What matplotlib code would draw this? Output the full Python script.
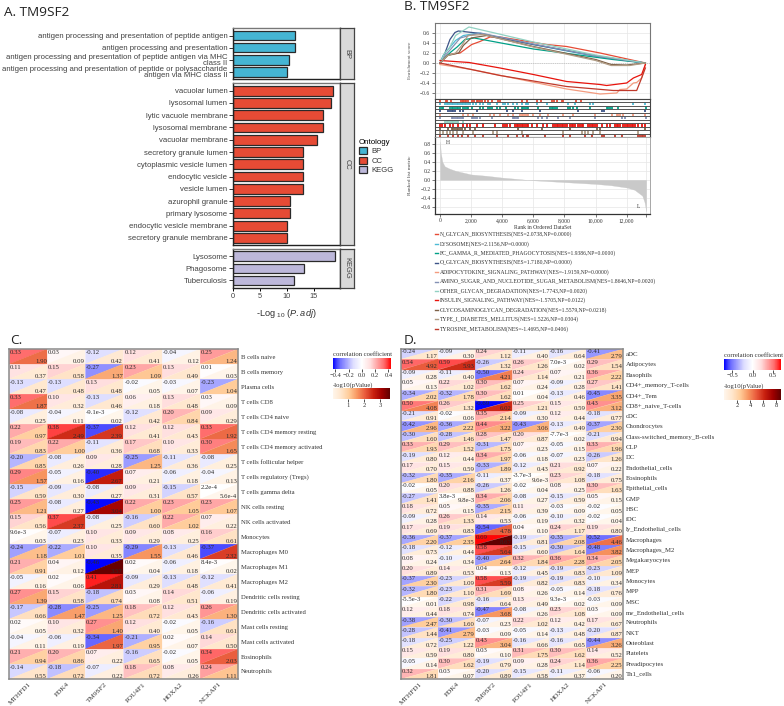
import matplotlib
matplotlib.use("Agg")
import matplotlib.pyplot as plt
import numpy as np
from matplotlib.collections import PolyCollection
from matplotlib.colors import LinearSegmentedColormap, Normalize
from matplotlib.cm import ScalarMappable
from matplotlib.patches import Patch

W, H = 784, 706
SERIF = "Liberation Serif"
SANS = "Liberation Sans"
plt.rcParams["font.family"] = SANS
plt.rcParams["mathtext.fontset"] = "custom"
plt.rcParams["mathtext.rm"] = SANS
plt.rcParams["mathtext.it"] = SANS + ":italic"

# ---------- Panel A ----------
bp_terms = ["antigen processing and presentation of peptide antigen",
            "antigen processing and presentation",
            "antigen processing and presentation of peptide antigen via MHC\nclass II",
            "antigen processing and presentation of peptide or polysaccharide\nantigen via MHC class II"]
bp_vals = [11.6, 11.5, 10.4, 10.1]
cc_terms = ["vacuolar lumen", "lysosomal lumen", "lytic vacuole membrane", "lysosomal membrane",
            "vacuolar membrane", "secretory granule lumen", "cytoplasmic vesicle lumen",
            "endocytic vesicle", "vesicle lumen", "azurophil granule", "primary lysosome",
            "endocytic vesicle membrane", "secretory granule membrane"]
cc_vals = [18.6, 18.15, 16.7, 16.7, 15.7, 13.0, 13.0, 13.0, 13.0, 10.5, 10.5, 10.05, 10.05]
kegg_terms = ["Lysosome", "Phagosome", "Tuberculosis"]
kegg_vals = [18.9, 13.2, 11.3]
ont_names = ["BP", "CC", "KEGG"]
ont_colors = ["#45B5D3", "#E64B35", "#BDB8DA"]

# ---------- Panel B ----------
gsea_labels = ["N_GLYCAN_BIOSYNTHESIS(NES=2.0738,NP=0.0000)",
               "LYSOSOME(NES=2.1156,NP=0.0000)",
               "FC_GAMMA_R_MEDIATED_PHAGOCYTOSIS(NES=1.9386,NP=0.0000)",
               "O_GLYCAN_BIOSYNTHESIS(NES=1.7180,NP=0.0000)",
               "ADIPOCYTOKINE_SIGNALING_PATHWAY(NES=-1.9159,NP=0.0000)",
               "AMINO_SUGAR_AND_NUCLEOTIDE_SUGAR_METABOLISM(NES=1.8646,NP=0.0020)",
               "OTHER_GLYCAN_DEGRADATION(NES=1.7743,NP=0.0020)",
               "INSULIN_SIGNALING_PATHWAY(NES=-1.5705,NP=0.0122)",
               "GLYCOSAMINOGLYCAN_DEGRADATION(NES=1.5579,NP=0.0218)",
               "TYPE_I_DIABETES_MELLITUS(NES=1.5226,NP=0.0304)",
               "TYROSINE_METABOLISM(NES=-1.4695,NP=0.0406)"]
gsea_colors = ["#E64B35", "#4DBBD5", "#00A087", "#3C5488", "#F39B7F", "#8491B4",
               "#91D1C2", "#E8130C", "#7E6148", "#B09C85", "#C0392B"]
n_glycan_rank = [0, 540, 1290, 2040, 2570, 3210, 3860, 6850, 8140, 10290, 13200]
n_glycan_es = [0, .17, .20, .37, .43, .52, .52, .37, .33, .20, 0]
lysosome_rank = [0, 200, 600, 1000, 1500, 2500, 6000, 10000, 13200]
lysosome_es = [0, .15, .30, .45, .55, .60, .37, .13, 0]
fc_gamma_rank = [0, 300, 700, 1100, 1600, 2200, 6000, 11100, 13200]
fc_gamma_es = [0, .10, .22, .32, .47, .50, .28, .07, 0]
o_glycan_rank = [0, 320, 640, 960, 1180, 2360, 6000, 10290, 13180]
o_glycan_es = [0, .20, .47, .61, .64, .60, .37, .13, 0]
adipo_rank = [0, 2040, 8140, 10290, 11360, 11570, 12000, 12430, 12640, 12960, 13200]
adipo_es = [-.03, -.13, -.52, -.62, -.60, -.53, -.52, -.40, -.39, -.30, -.03]
amino_rank = [0, 250, 700, 1300, 2000, 2600, 6000, 10000, 13200]
amino_es = [0, .12, .28, .50, .56, .60, .38, .14, 0]
other_rank = [0, 300, 600, 1000, 1860, 6000, 10000, 13200]
other_es = [0, .20, .30, .55, .72, .42, .16, 0]
insulin_rank = [0, 1870, 3860, 6000, 8140, 10290, 10710, 12000, 12430, 12960, 13200]
insulin_es = [.05, .01, -.10, -.23, -.37, -.43, -.45, -.40, -.30, -.23, -.03]
glycos_rank = [0, 500, 1200, 1500, 2000, 3000, 6000, 10000, 11000, 12000, 13200]
glycos_es = [0, .15, .20, .35, .50, .55, .33, .07, -.03, -.04, 0]
type1_rank = [0, 500, 1000, 1400, 1800, 2800, 6000, 10000, 11000, 12200, 13200]
type1_es = [0, .15, .20, .35, .55, .57, .32, .05, -.05, -.05, 0]
tyrosine_rank = [0, 3860, 8140, 11140, 12640, 12960, 13200]
tyrosine_es = [0, -.25, -.47, -.55, -.55, -.30, -.10]

rug_n_glycan = [0, 360, 470, 700, 1340, 1450, 1500, 1600, 1700, 1800, 2040, 2190, 2360, 2460, 2570, 2680, 2890,
                3100, 3360, 3750, 3860, 5240, 5560, 6250, 6460, 7180, 7300, 7500, 7810, 7920, 8770, 9050]
rug_lysosome = [0, 320, 430, 540, 640, 750, 860, 960, 1070, 1180, 1290, 1400, 1500, 1600, 1700, 1800, 1950, 2150,
                2300, 2570, 2790, 3100, 3210, 3640, 4070, 4200, 4390, 4710, 4920, 5280, 5500, 5600, 5670, 6210,
                6850, 8250, 8670, 9630, 9840, 12430, 13180]
rug_fc_gamma = [0, 110, 210, 640, 750, 860, 960, 1070, 1180, 1290, 1500, 1610, 1710, 1820, 2040, 2570, 2790, 3110,
                3210, 3320, 3640, 3860, 4240, 4820, 5040, 5250, 5360, 5460, 5570, 5680, 6320, 7070, 7180, 7290,
                7390, 7500, 8250, 8360, 8570, 8790, 9640, 10720, 10820, 10930, 11040, 11470, 13240]
rug_o_glycan = [0, 540, 640, 750, 860, 960, 1290, 1500, 2360, 4290, 4710, 5250, 6430, 8890, 10390, 10540, 13180]
rug_adipo = [0, 1500, 1820, 2140, 3210, 3490, 3860, 4390, 4710, 5140, 5250, 5360, 5460, 5570, 5680, 6000, 6430,
             6960, 7930, 8570, 9960, 11040, 11360, 11460, 11570, 11740, 12430, 13180]
rug_amino = [0, 750, 860, 960, 1070, 1180, 1290, 1390, 1500, 2040, 2140, 2250, 2360, 2570, 3320, 4670, 4760, 4840,
             4930, 5040, 6320, 6540, 6860, 7610, 8360, 9960, 11680, 11890, 13240]
rug_other = [320, 430, 540, 640, 750, 860, 960, 1070, 1180, 1500]
rug_insulin = [0, 110, 320, 640, 860, 1180, 1500, 1710, 1930, 2360, 2790, 3540, 4070, 4180, 4290, 4500, 4820, 4930,
               5040, 5140, 5250, 5360, 5460, 5570, 5680, 5890, 6210, 6640, 6860, 7290, 7390, 7500, 7610, 7710,
               7820, 7930, 8040, 8140, 8360, 8460, 8570, 8680, 8890, 9000, 9110, 9210, 9540, 9640, 9750, 9860,
               9960, 10070, 10390, 10720, 10930, 11250, 11360, 11460, 11570, 11790, 11890, 12000, 12110, 12210,
               12320, 12430, 12540, 12750, 12960, 13180]
rug_glycos = [0, 540, 750, 860, 960, 1070, 1180, 1290, 1390, 1610, 1930, 2250, 5040, 6540, 8360, 10070, 10290, 13180]
rug_type1 = [0, 210, 430, 640, 860, 1070, 1500, 2140, 3430, 3640, 5250, 7930, 9110, 9320, 9540, 9860, 10290, 12750]
rug_tyrosine = [0, 540, 860, 1180, 1390, 1820, 2250, 2790, 3640, 4390, 4930, 5360, 5570, 5680, 6750, 7930, 8360,
                9320, 9750, 10390, 10540, 11250, 11680, 12750, 12860, 12960, 13070, 13180]

metric_rank = [0, 50, 150, 300, 600, 1000, 2000, 3000, 4000, 5000, 5600, 6000, 7000, 8000, 9000, 10000, 11000,
               12000, 12500, 13000, 13150, 13250]
metric_val = [.85, .60, .40, .30, .25, .20, .12, .09, .05, .02, 0, -.01, -.03, -.05, -.07, -.09, -.12, -.17,
              -.22, -.35, -.50, -.70]

# ---------- Panels C and D ----------
genes = ["MTHFD1", "PDK4", "TM9SF2", "POU4F1", "HOXA2", "NCKAP1"]
c_rows = ["B cells naive", "B cells memory", "Plasma cells", "T cells CD8", "T cells CD4 naive",
          "T cells CD4 memory resting", "T cells CD4 memory activated", "T cells follicular helper",
          "T cells regulatory (Tregs)", "T cells gamma delta", "NK cells resting", "NK cells activated",
          "Monocytes", "Macrophages M0", "Macrophages M1", "Macrophages M2", "Dendritic cells resting",
          "Dendritic cells activated", "Mast cells resting", "Mast cells activated", "Eosinophils", "Neutrophils"]
c_corr = [[.33, .03, -.12, .12, -.04, .25], [.11, .15, -.27, .23, .13, .01], [-.13, -.13, .13, -.02, -.03, -.23],
          [.33, .10, -.13, .06, .13, .03], [-.08, -.04, -9.1e-3, -.12, .20, .09], [.22, .38, -.37, .12, .12, .33],
          [.19, .22, -.11, .17, .10, .30], [-.20, -.08, .09, -.25, -.11, -.08], [.29, -.05, -.40, .07, -.06, -.04],
          [-.15, -.09, -.08, .09, -.15, 2.2e-4], [.25, -.08, -.43, .22, .23, .23], [.15, .37, -.08, -.16, .22, .07],
          [9.6e-3, -.07, .10, .09, .08, .16], [-.24, -.22, .10, -.29, -.13, -.37], [.21, .04, -.46, .02, -.06, 8.4e-3],
          [-.05, .02, .41, -.09, -.13, -.12], [.27, .15, -.18, .03, .14, -.06], [-.17, -.28, -.25, .18, .12, .26],
          [.02, .10, .27, .12, -.02, -.16], [-.04, -.06, -.34, -.21, .02, .14], [.21, .20, .07, -.16, -.02, .34],
          [-.14, -.18, -.07, .18, .08, .24]]
c_logp = [[1.90, .09, .42, .41, .12, 1.24], [.37, .58, 1.37, 1.09, .49, .03], [.47, .48, .48, .05, .07, 1.04],
          [1.87, .32, .46, .18, .48, .09], [.25, .11, .02, .42, .84, .29], [.97, 2.49, 2.39, .41, .43, 1.92],
          [.83, 1.00, .36, .68, .33, 1.65], [.85, .26, .28, 1.25, .36, .25], [1.57, .16, 2.67, .21, .18, .13],
          [.59, .30, .27, .31, .57, 5.6e-4], [1.21, .27, 3.04, 1.00, 1.05, 1.07], [.56, 2.37, .25, .60, 1.02, .22],
          [.03, .23, .33, .29, .25, .61], [1.18, 1.01, .35, 1.55, .46, 2.32], [.91, .12, 3.57, .04, .18, .02],
          [.16, .06, 2.81, .29, .48, .41], [1.39, .58, .74, .08, .51, .19], [.66, 1.47, 1.25, .72, .43, 1.30],
          [.05, .32, 1.40, .40, .05, .61], [.11, .19, 1.97, .95, .07, .50], [.94, .86, .22, .65, .05, 2.03],
          [.55, .72, .22, .72, .26, 1.11]]
d_rows = ["aDC", "Adipocytes", "Basophils", "CD4+_memory_T-cells", "CD4+_Tem", "CD8+_naive_T-cells", "cDC",
          "Chondrocytes", "Class-switched_memory_B-cells", "CLP", "DC", "Endothelial_cells", "Eosinophils",
          "Epithelial_cells", "GMP", "HSC", "iDC", "ly_Endothelial_cells", "Macrophages", "Macrophages_M2",
          "Megakaryocytes", "MEP", "Monocytes", "MPP", "MSC", "mv_Endothelial_cells", "Neutrophils", "NKT",
          "Osteoblast", "Platelets", "Preadipocytes", "Th1_cells"]
d_corr = [[-.24, -.09, .24, -.11, -.16, -.41], [.54, .59, -.26, .26, 7.0e-3, .29], [-.09, -.11, -.50, .24, .07, .36],
          [.05, .22, .30, .07, -.09, .27], [-.34, -.32, .30, .01, -.13, -.45], [.50, .26, -.69, .25, .15, .43],
          [-.21, -.02, .35, -.09, .12, -.18], [-.42, -.36, .44, -.43, -.13, -.37], [-.30, -.28, .28, .20, -7.7e-3, -.21],
          [.33, .29, -.31, .07, -.05, .33], [-.19, .12, .34, -.06, -.07, -.26], [.17, .15, -.33, -.12, .21, .07],
          [-.32, -.35, -.11, -3.7e-3, .23, -.18], [-.02, .20, -.26, -.02, .08, .30], [-.27, 3.8e-3, .34, -.08, -.15, .05],
          [.18, .05, -.35, .11, -.03, -.02], [-.09, .26, .14, -.06, -.10, -.02], [.17, .19, -.54, .04, .24, .19],
          [-.36, -.37, .69, -.19, -.35, -.52], [-.18, -.12, .58, -.15, -.30, -.48], [.08, -.10, -.40, .32, .36, .34],
          [.20, .14, .04, -.12, -.19, -.23], [-.37, -.23, .58, -.19, -.19, -.10], [-.32, -.23, .31, .08, -.05, -.18],
          [-5.5e-3, -.22, -.16, .13, 9.3e-3, -.03], [.12, .18, -.47, -.08, .23, .03], [-.38, -.30, -.07, .22, .12, .17],
          [-.28, -.41, -.03, -.05, -.13, -.20], [-.18, -.25, .43, -.16, -.16, -.44], [.15, .19, .03, .31, .30, .14],
          [-.05, .30, -.19, .09, .24, .36], [.32, .03, -.20, -.15, -.11, -.06]]
d_logp = [[1.17, .30, 1.12, .40, .64, 2.79], [4.92, 5.93, 1.32, 1.26, .02, 1.54], [.28, .40, 4.21, 1.14, .21, 2.22],
          [.13, 1.02, 1.62, .24, .28, 1.41], [2.02, 1.78, 1.62, .04, .46, 3.35], [4.08, 1.32, 6.02, 1.21, .59, 3.12],
          [.91, .06, 2.14, .30, .44, .77], [2.96, 2.22, 3.22, 3.06, .49, 2.30], [1.60, 1.46, 1.47, .87, .02, .94],
          [1.93, 1.52, 1.75, .23, .15, 1.96], [.80, .44, 1.97, .18, .23, 1.26], [.70, .59, 1.89, .43, .92, .22],
          [1.80, 2.16, .37, 9.6e-3, 1.08, .75], [.05, .88, 1.26, .04, .25, 1.63], [1.41, 9.8e-3, 2.06, .27, .59, .15],
          [.72, .15, 2.15, .39, .09, .05], [.28, 1.33, .53, .19, .32, .04], [.69, .83, 4.78, .10, 1.17, .80],
          [2.20, 2.35, 8.67, .81, 2.08, 4.46], [.73, .44, 5.64, .60, 1.64, 3.82], [.24, .34, 2.64, 1.84, 2.28, 2.05],
          [.89, .53, .13, .45, .83, 1.09], [2.30, 1.09, 5.59, .82, .83, .34], [1.80, 1.10, 1.69, .26, .14, .76],
          [.01, .98, .64, .49, .02, .09], [.44, .74, 3.68, .26, 1.08, .09], [2.47, 1.60, .23, 1.02, .42, .67],
          [1.44, 2.79, .09, .14, .48, .87], [.72, 1.22, 3.04, .66, .65, 3.26], [.59, .80, .10, 1.75, 1.62, .52],
          [.14, 1.62, .79, .28, 1.14, 2.25], [1.81, .07, .89, .58, .37, .20]]

# Both correlation ramps are paler than a straight blue-white-red near zero.
cmap_corr = LinearSegmentedColormap.from_list("corr", [
    (0.0, "#0000FF"), (0.065, "#4040FF"), (0.125, "#7070FF"), (0.25, "#ABABFF"), (0.35, "#DDDDFF"),
    (0.5, "#FFFFFF"),
    (0.65, "#FFDDDD"), (0.75, "#FFABAB"), (0.875, "#FF7070"), (0.935, "#FF4040"), (1.0, "#FF0000")])
cmap_p = LinearSegmentedColormap.from_list(
    "pv", ["#FFF6EC", "#FFE6CC", "#FFCC99", "#F79560", "#E8583A", "#C8200F", "#A00000", "#600000"])

fig = plt.figure(figsize=(W / 100, H / 100), dpi=100, facecolor="white")


def ax_px(l, t, r, b, **kw):
    return fig.add_axes([l / W, 1 - b / H, (r - l) / W, (b - t) / H], **kw)


def ftext(x, y, s, **kw):
    return fig.text(x / W, 1 - y / H, s, **kw)


# ---------- draw A ----------
ftext(4, 13, "A. TM9SF2", fontsize=9.7, family="Open Sans", va="center", color="#222222")
ftext(404, 7, "B. TM9SF2", fontsize=9.7, family="Open Sans", va="center", color="#222222")
ftext(10, 340, "C.", fontsize=9.7, family="Open Sans", va="center", color="#222222")
ftext(404, 340, "D.", fontsize=9.7, family="Open Sans", va="center", color="#222222")

facets = [(bp_terms, bp_vals, 28.3, 79, "BP", ont_colors[0]),
          (cc_terms, cc_vals, 83.3, 245.3, "CC", ont_colors[1]),
          (kegg_terms, kegg_vals, 249, 287.7, "KEGG", ont_colors[2])]
for i, (terms, vals, t, b, name, col) in enumerate(facets):
    ax = ax_px(233.3, t, 340.3, b)
    y = np.arange(len(vals))
    ax.barh(y, vals, height=0.8, color=col, edgecolor="#2a2a2a", linewidth=0.9)
    ax.set_xlim(0, 19.97)
    ax.set_ylim(len(vals) - 0.4, -0.6)
    ax.set_yticks(y)
    ax.set_yticklabels(terms, fontsize=5.6, color="#404040", linespacing=0.88)
    ax.tick_params(axis="y", length=3, width=0.7, pad=1.2, color="#333333")
    for sp in ax.spines.values():
        sp.set_linewidth(1.0)
        sp.set_color("#222222")
    ax.spines["top"].set_color("#777777")
    if i == 2:
        ax.set_xticks([0, 5, 10, 15])
        ax.tick_params(axis="x", length=2.2, width=0.7, labelsize=5.3, pad=1.5, labelcolor="#404040")
        ax.set_xlabel(r"-Log $_{10}$ ($\mathit{P.adj}$)", fontsize=6.6, labelpad=1.5, color="#303030")
        ax.xaxis.set_label_coords(0.5, -0.50)
    else:
        ax.set_xticks([])
    st = ax_px(340.3, t, 354.3, b)
    st.set_facecolor("#D9D9D9")
    st.set_xticks([])
    st.set_yticks([])
    for sp in st.spines.values():
        sp.set_linewidth(0.9)
        sp.set_color("#444444")
    st.text(0.5, 0.5, name, rotation=-90, ha="center", va="center", fontsize=5.4,
            color="#404040", transform=st.transAxes)

handles = [Patch(facecolor=c, edgecolor="#2a2a2a", linewidth=0.9) for c in ont_colors]
fig.legend(handles, ont_names, title="Ontology", loc="upper left",
           bbox_to_anchor=(358.7 / W, 1 - 139 / H), frameon=False, fontsize=5.5, title_fontsize=5.7,
           handlelength=1.05, handleheight=1.05, labelspacing=0.17, handletextpad=0.58, borderpad=0,
           borderaxespad=0, alignment="left", labelcolor="#333333")

# ---------- draw B ----------
rank_lim = (-321, 13497)
ranks = [0, 2000, 4000, 6000, 8000, 10000, 12000]
gsea_rank = [n_glycan_rank, lysosome_rank, fc_gamma_rank, o_glycan_rank, adipo_rank, amino_rank,
             other_rank, insulin_rank, glycos_rank, type1_rank, tyrosine_rank]
gsea_es = [n_glycan_es, lysosome_es, fc_gamma_es, o_glycan_es, adipo_es, amino_es,
           other_es, insulin_es, glycos_es, type1_es, tyrosine_es]
rugs = [rug_n_glycan, rug_lysosome, rug_fc_gamma, rug_o_glycan, rug_adipo, rug_amino,
        rug_other, rug_insulin, rug_glycos, rug_type1, rug_tyrosine]

es_ax = ax_px(435, 23, 650, 98.5)
es_ax.set_xlim(*rank_lim)
es_ax.set_ylim(-0.71, 0.8)
es_ax.grid(True, color="#E6E6E6", linewidth=0.5)
es_ax.set_axisbelow(True)
es_ax.axhline(0, color="#AAAAAA", linewidth=0.5, linestyle=":")
for rk, es, col in zip(gsea_rank, gsea_es, gsea_colors):
    es_ax.plot(rk, es, color=col, linewidth=0.9, solid_joinstyle="round")
es_ax.set_xticks(ranks)
es_ax.set_yticks([-0.6, -0.4, -0.2, 0, 0.2, 0.4, 0.6])
es_ax.set_yticklabels(["\u22120.6", "\u22120.4", "\u22120.2", "0.0", "0.2", "0.4", "0.6"])
es_ax.tick_params(axis="x", length=0, labelbottom=False)
es_ax.tick_params(axis="y", length=2, width=0.5, labelsize=4.0, pad=1.5, color="#444444", labelcolor="#333333")
for lab in es_ax.get_yticklabels():
    lab.set_family(SERIF)
for sp in es_ax.spines.values():
    sp.set_color("#777777")
    sp.set_linewidth(0.8)
ftext(410, 60, "Enrichment score", rotation=90, ha="center", va="center", fontsize=3.9,
      family=SERIF, color="#555555")

rug_ax = ax_px(435, 98.5, 650, 137.3)
rug_ax.set_xlim(*rank_lim)
rug_ax.set_ylim(11, 0)
for i, (rug, col) in enumerate(zip(rugs, gsea_colors)):
    rug_ax.vlines(rug, i + 0.05, i + 0.95, color=col, linewidth=1.3)
rug_ax.hlines(np.arange(12), *rank_lim, color="#555555", linewidth=0.7)
rug_ax.set_xticks([])
rug_ax.set_yticks([])
for sp in rug_ax.spines.values():
    sp.set_color("#444444")
    sp.set_linewidth(0.8)

rk_ax = ax_px(435, 137.3, 650, 214)
rk_ax.set_xlim(*rank_lim)
rk_ax.set_ylim(-0.756, 0.942)
rk_ax.grid(True, color="#E6E6E6", linewidth=0.5)
rk_ax.set_axisbelow(True)
rk_ax.fill_between(metric_rank, metric_val, 0, color="#C9C9C9", linewidth=0.2)
rk_ax.set_xticks(ranks + [13250])
rk_ax.set_xticklabels(["0", "2,000", "4,000", "6,000", "8,000", "10,000", "12,000", ""])
rk_ax.set_yticks([-0.6, -0.4, -0.2, 0, 0.2, 0.4, 0.6, 0.8])
rk_ax.set_yticklabels(["\u22120.6", "\u22120.4", "\u22120.2", "0.0", "0.2", "0.4", "0.6", "0.8"])
rk_ax.tick_params(length=2, width=0.5, labelsize=4.0, pad=1, color="#444444", labelcolor="#333333")
for lab in rk_ax.get_yticklabels() + rk_ax.get_xticklabels():
    lab.set_family(SERIF)
for side, sp in rk_ax.spines.items():
    sp.set_color("#333333" if side in ("left", "bottom") else "#999999")
    sp.set_linewidth(0.9 if side in ("left", "bottom") else 0.6)
rk_ax.text(500, 0.82, "H", fontsize=4.0, family=SERIF, color="#333333", ha="center", va="center")
rk_ax.text(12750, -0.6, "L", fontsize=4.0, family=SERIF, color="#333333", ha="center", va="center")
ftext(410, 175, "Ranked list metric", rotation=90, ha="center", va="center", fontsize=3.9,
      family=SERIF, color="#444444")
ftext(542.7, 228, "Rank in Ordered DataSet", ha="center", va="center", fontsize=4.05,
      family=SERIF, color="#333333")

leg_ax = ax_px(433, 229.5, 700, 333.5)
leg_ax.set_xlim(0, 1)
leg_ax.set_ylim(len(gsea_labels) - 0.5, -0.5)
leg_ax.axis("off")
for i, (lab, col) in enumerate(zip(gsea_labels, gsea_colors)):
    leg_ax.plot([0.0075, 0.019], [i, i], color=col, linewidth=1.0)
    leg_ax.text(0.026, i, lab, fontsize=4.1, family=SERIF, va="center", ha="left", color="#333333")


# ---------- draw C and D ----------
def fmt(v):
    if v != 0 and abs(v) < 0.01:
        return f"{v:.1e}".replace("e-0", "e-")
    return f"{v:.2f}"


def triangle_heatmap(l, t, r, b, rows, corr, logp, lim_corr, lim_p, fs, lab_fs):
    ax = ax_px(l, t, r, b)
    corr = np.array(corr)
    logp = np.array(logp)
    nr, nc = corr.shape
    upper, lower, cv, pv = [], [], [], []
    for i in range(nr):
        for j in range(nc):
            upper.append([(j, i), (j + 1, i), (j, i + 1)])
            lower.append([(j + 1, i), (j + 1, i + 1), (j, i + 1)])
            cv.append(corr[i, j])
            pv.append(logp[i, j])
    n1 = Normalize(-lim_corr, lim_corr)
    n2 = Normalize(0, lim_p)
    ax.add_collection(PolyCollection(upper, array=np.array(cv), cmap=cmap_corr, norm=n1,
                                     edgecolors="face", linewidths=0.15))
    ax.add_collection(PolyCollection(lower, array=np.array(pv), cmap=cmap_p, norm=n2,
                                     edgecolors="face", linewidths=0.15))
    for i in range(nr):
        for j in range(nc):
            ax.text(j + 0.02, i + 0.04, fmt(corr[i, j]), fontsize=fs, family=SERIF, ha="left",
                    va="top", color="#2a2a2a")
            ax.text(j + 0.985, i + 0.97, fmt(logp[i, j]), fontsize=fs, family=SERIF, ha="right",
                    va="bottom", color="#2a2a2a")
    ax.set_xlim(0, nc)
    ax.set_ylim(nr, 0)
    ax.set_xticks(np.arange(nc) + 0.5)
    ax.set_xticklabels(genes, rotation=45, ha="right", rotation_mode="anchor", fontsize=5.2,
                       family=SERIF, color="#333333")
    ax.yaxis.tick_right()
    ax.set_yticks(np.arange(nr) + 0.5)
    ax.set_yticklabels(rows, fontsize=lab_fs, family=SERIF, color="#333333")
    ax.tick_params(length=0, pad=2.2)
    ax.tick_params(axis="x", pad=2)
    for sp in ax.spines.values():
        sp.set_color("#8A8A8A")
        sp.set_linewidth(1.1)
    return n1, n2


def cbar(l, t, r, b, norm, cmap, ticks, labels, title):
    cax = ax_px(l, t, r, b)
    cb = fig.colorbar(ScalarMappable(norm=norm, cmap=cmap), cax=cax, orientation="horizontal")
    cb.set_ticks(ticks)
    cb.set_ticklabels(labels)
    cb.outline.set_visible(False)
    cax.tick_params(length=2, width=0.6, labelsize=4.7, pad=0.5, colors="#333333")
    for lab in cax.get_xticklabels():
        lab.set_family(SERIF)
    ftext(l, t - 3.6, title, fontsize=4.75, family=SERIF, color="#333333", ha="left", va="center")


nc1, nc2 = triangle_heatmap(9.3, 349, 237.7, 679, c_rows, c_corr, c_logp, 0.44, 3.64, 4.9, 4.8)
cbar(332.7, 357.7, 391, 369.3, nc1, cmap_corr, [-0.4, -0.2, 0, 0.2, 0.4],
     ["\u22120.4", "\u22120.2", "0.0", "0.2", "0.4"], "correlation coefficient")
cbar(332.7, 388.3, 390, 399.3, nc2, cmap_p, [1, 2, 3], ["1", "2", "3"], "-log10(pValue)")

nd1, nd2 = triangle_heatmap(401, 349, 623, 679, d_rows, d_corr, d_logp, 0.70, 8.7, 4.85, 4.9)
cbar(724, 359, 781, 370, nd1, cmap_corr, [-0.5, 0, 0.5], ["\u22120.5", "0.0", "0.5"], "correlation coefficient")
cbar(724, 389.3, 781, 400, nd2, cmap_p, [2, 4, 6, 8], ["2", "4", "6", "8"], "-log10(pValue)")

fig.savefig("out.png", dpi=100)
